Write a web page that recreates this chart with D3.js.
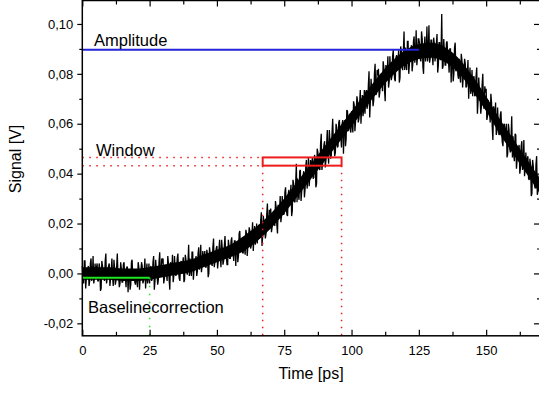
<!DOCTYPE html>
<html>
<head>
<meta charset="utf-8">
<script src="https://cdn.jsdelivr.net/npm/d3@7"></script>
<style>
  body { margin: 0; background: #fff; }
  svg { display: block; font-family: Arial, "Liberation Sans", sans-serif; }
</style>
</head>
<body>
<svg id="chart" width="539" height="393"></svg>
<script>
// trace (mV), samples at 0, 0.5, 1.0 ... ps
const sampleStep = 0.5;
const signalMv = [
  3, -4, 5, -2, 1, -5, 4, -3, 7, -2,
  -1, 4, -3, 2, -6, 3, -2, 5, -4, 1,
  4, -2, 6, -5, 2, -3, 8, -1, -4, 2,
  -3.5, 4.5, -1.5, 2.5, -7.5, 1.5, -4.5, 5.5, -0.5, -3.5,
  1.5, -5.5, 2.5, -1.5, 4.5, -4, 1, -6, 4, -2,
  -4, 3, -2, 7, -3, 1.5, -4.5, 4.5, -1, 6,
  6, -2, 2, -3, 4, -6.5, 3.5, 7.5, -1, 1,
  0, 8, -2, 4, 1, 6.5, -2.5, 5.5, -0.5, 11.5,
  6, -1, 8.5, 1.5, 5, -1, 8, 1.5, 11.5, 3,
  4, 9, 2.5, 7.5, 0, 8, 4, 10.5, 2.5, 8,
  11, 5, 13.5, 2.5, 10, 5, 15, 6.5, 3.5, 11,
  6, 14.5, 8.5, 13, 3, 12.5, 7, 17, 11.5, 8.5,
  14, 7.5, 16, 11, 18.5, 10, 15.5, 9, 19, 13.5,
  12, 19.5, 15, 24.5, 15, 19.5, 14, 23.5, 18, 25.5,
  26, 18.5, 23, 19, 26.5, 16, 26.5, 31, 23, 25.5,
  24, 34.5, 23.5, 32, 29, 35.5, 25, 36, 28.5, 44,
  38, 29.5, 41.5, 33, 39, 30.5, 43, 34, 46.5, 38.5,
  39, 46.5, 38.5, 46, 36, 48.5, 42, 52, 41.5, 48.5,
  53, 45.5, 57.5, 44, 53, 47.5, 62, 52, 48.5, 58.5,
  51, 61.5, 55.5, 60, 48, 61.5, 54, 65, 60.5, 57.5,
  65, 56.5, 67.5, 61, 71, 60.5, 68, 60, 71.5, 65.5,
  64, 73.5, 67.5, 81, 69, 73.5, 67, 80, 71.5, 81.5,
  82, 72.5, 78, 73, 82.5, 69, 82.5, 87, 77, 80.5,
  79, 89.5, 78, 86.5, 83, 89.5, 78.5, 89, 81.5, 97,
  90.5, 81.5, 93, 84, 89.5, 81, 93, 84.5, 97.5, 86.5,
  94, 86, 97, 83, 91, 85, 99, 88.5, 84.5, 93.5,
  87.5, 94.5, 85, 92, 80.5, 92.5, 85.5, 104, 83, 88.5,
  83.5, 93, 85.5, 90, 76.5, 88, 80, 92.5, 84, 79.5,
  86, 76.5, 85.5, 79, 86, 74.5, 80, 70, 82.5, 73.5,
  71, 79, 71.5, 82.5, 69, 73, 64, 75.5, 67.5, 75,
  74, 63, 67, 60.5, 68.5, 53.5, 65.5, 68.5, 57, 59,
  56, 65, 52.5, 59.5, 55, 60, 48, 57.5, 48.5, 63,
  55, 45, 55.5, 45.5, 50, 40, 51, 41.5, 53.5, 42,
  41, 47, 37.5, 43.5, 32, 43, 35, 43.5, 31.5, 37,
  36
];
// in-between samples at 0.25, 0.75, 1.25 ... ps (mV)
const signalMvMid = [
  -2, 5, -6, 1, 3, -3, 6, -1, -4, 4,
  2, -3, 4, -7, 5, -1, -3, 8, -2, 3,
  -5, 1.5, -1.5, 5.5, -4.5, 2.5, -0.5, -5.5, 4.5, -3.5,
  3.5, -1.5, -5.5, 2.5, 0.5, -6.5, 4.5, -2.5, 1.5, -4.5,
  -2.5, 4.5, -6.5, 0.5, 3, -3, 6, -1, -4, 4,
  2, -3, 4.5, -6.5, 5.5, -0.5, -2.5, 8.5, -1, 4,
  -4, 3, 0, 7, -2.5, 4.5, 1.5, -3.5, 7, -1,
  6, 1, -3, 5, 3.5, -3.5, 7.5, 0.5, 4.5, -1,
  1, 8.5, -2.5, 4.5, 7, 1, 10.5, 3.5, 0.5, 9,
  7, 2.5, 9.5, -1.5, 10.5, 4.5, 3, 14, 4.5, 10,
  2, 9.5, 6.5, 13.5, 3.5, 11, 8, 3.5, 13.5, 6,
  13, 8.5, 5, 13, 11.5, 4.5, 16, 9, 13.5, 8,
  10, 17.5, 7, 14.5, 17, 11, 20.5, 14, 11.5, 20,
  18, 14, 21, 11, 23, 17.5, 16, 28, 18, 24,
  16.5, 24, 21.5, 29, 19.5, 27.5, 25, 20.5, 31, 23.5,
  32.5, 27, 23, 33.5, 31, 23, 37.5, 29, 36, 28.5,
  31.5, 41, 29, 37.5, 41, 34, 45.5, 38, 35, 45.5,
  44.5, 38, 47.5, 34.5, 50, 44, 41.5, 56, 44, 51.5,
  42.5, 52, 48.5, 57.5, 46, 56, 52.5, 47, 60, 50.5,
  60.5, 55, 50.5, 61.5, 59, 51, 65.5, 57, 64, 56.5,
  59.5, 69, 57, 65.5, 69, 62, 73.5, 66, 63, 73.5,
  72.5, 66, 75.5, 62.5, 78, 72, 69.5, 84, 72, 79.5,
  70.5, 80, 76.5, 85, 73.5, 83.5, 80, 74.5, 87, 77.5,
  87, 81.5, 77, 87.5, 85, 76.5, 91, 82.5, 89, 81.5,
  83.5, 93, 80, 88.5, 91.5, 84, 95, 87.5, 83.5, 94,
  92, 85, 94, 80, 95, 88, 85, 99.5, 86.5, 93.5,
  83.5, 92, 88, 96, 83.5, 92.5, 88, 82, 94, 83.5,
  92.5, 86, 80.5, 90, 86.5, 77, 90.5, 81, 86.5, 78,
  79.5, 88, 74.5, 81.5, 84, 75, 85.5, 76.5, 72, 81.5,
  78.5, 71, 79, 64, 78.5, 70.5, 67, 80, 66, 72.5,
  61.5, 69.5, 65, 72, 59, 67, 62, 55.5, 66.5, 55.5,
  63.5, 57, 51, 60, 56.5, 46.5, 60, 50, 55, 46.5,
  47.5, 56, 42, 49, 51.5, 42.5, 53, 44, 39, 48.5,
  45.5, 38, 46, 31, 45.5, 37.5, 34, 47, 33, 39.5
];

// dense core of the trace, every 5 ps (mV)
const coreStep = 5;
const coreLowMv = [
  -2.5, -2.5, -2.5, -3, -3, -2.5, -1.5, -0.5, 0.5, 2.5,
  4.5, 6.5, 9, 13, 18, 24, 31, 38, 45, 52,
  59, 66, 73, 79, 83.5, 86, 86.5, 84.5, 80, 73,
  65, 56, 48, 40, 32
];
const coreHighMv = [
  2.5, 2.5, 2.5, 2, 2, 2.5, 3.5, 4.5, 5.5, 7.5,
  9.5, 11.5, 15, 19, 24, 30, 37, 44, 51, 58,
  65, 72, 79, 85, 89.5, 92, 92.5, 90.5, 86, 79,
  71, 62, 54, 46, 38
];

const xMajorTicks = [0, 25, 50, 75, 100, 125, 150];
const xMinorTicks = [12.5, 37.5, 62.5, 87.5, 112.5, 137.5, 162.5];
const yMajorTicks = [-0.02, 0, 0.02, 0.04, 0.06, 0.08, 0.10];
const yMinorTicks = [-0.01, 0.01, 0.03, 0.05, 0.07, 0.09];

// annotation levels
const amplitudeLevel = 0.0897, amplitudeTime = 125;
const baselineLevel = -0.0017, baselineEnd = 25;
const windowLow = 0.0432, windowHigh = 0.0465;
const windowStart = 67, windowEnd = 96.3;

const svg = d3.select("#chart");

const x = d3.scaleLinear().domain([0, 170]).range([82.3, 540]);
const y = d3.scaleLinear().domain([-0.025, 0.11]).range([335.8, -1]);

const locale = d3.formatLocale({ decimal: ",", thousands: ".", grouping: [3], currency: ["", ""], minus: "-" });
const fmt = locale.format(".2f");

const plotLeft = x(0), plotRight = x(170), plotBottom = y(-0.025), plotTop = 0.5;

// core band
const core = d3.area()
  .x((d, i) => x(i * coreStep))
  .y0((d, i) => y(coreLowMv[i] / 1000))
  .y1((d, i) => y(coreHighMv[i] / 1000))
  .curve(d3.curveMonotoneX);

svg.append("path")
  .datum(coreLowMv)
  .attr("d", core)
  .attr("fill", "#000");

// merge both sample sets in time order
const samples = signalMv.map((v, i) => ({ t: i * sampleStep, v: v / 1000 }))
  .concat(signalMvMid.map((v, i) => ({ t: i * sampleStep + sampleStep / 2, v: v / 1000 })))
  .sort((a, b) => a.t - b.t);

const line = d3.line()
  .x(d => x(d.t))
  .y(d => y(d.v));

svg.append("path")
  .datum(samples)
  .attr("d", line)
  .attr("fill", "none")
  .attr("stroke", "#000")
  .attr("stroke-width", 1.3)
  .attr("stroke-linejoin", "miter")
  .attr("stroke-miterlimit", 2);

// amplitude
svg.append("line")
  .attr("x1", plotLeft).attr("x2", x(amplitudeTime))
  .attr("y1", y(amplitudeLevel)).attr("y2", y(amplitudeLevel))
  .attr("stroke", "#2424d8").attr("stroke-width", 2);

// window box + guides
svg.append("rect")
  .attr("x", x(windowStart)).attr("y", y(windowHigh))
  .attr("width", x(windowEnd) - x(windowStart))
  .attr("height", y(windowLow) - y(windowHigh))
  .attr("fill", "none").attr("stroke", "#ee1c1c").attr("stroke-width", 2);

[windowHigh, windowLow].forEach(v => {
  svg.append("line")
    .attr("x1", plotLeft).attr("x2", x(windowStart))
    .attr("y1", y(v)).attr("y2", y(v))
    .attr("stroke", "#ee1c1c").attr("stroke-width", 1.5)
    .attr("stroke-dasharray", "1.5,5.5");
});
[windowStart, windowEnd].forEach(t => {
  svg.append("line")
    .attr("x1", x(t)).attr("x2", x(t))
    .attr("y1", y(windowLow)).attr("y2", plotBottom)
    .attr("stroke", "#ee1c1c").attr("stroke-width", 1.5)
    .attr("stroke-dasharray", "1.5,5.5");
});

// baseline correction
svg.append("line")
  .attr("x1", plotLeft).attr("x2", x(baselineEnd))
  .attr("y1", y(baselineLevel)).attr("y2", y(baselineLevel))
  .attr("stroke", "#1ee61e").attr("stroke-width", 2);
svg.append("line")
  .attr("x1", x(baselineEnd)).attr("x2", x(baselineEnd))
  .attr("y1", y(baselineLevel)).attr("y2", plotBottom)
  .attr("stroke", "#1ee61e").attr("stroke-width", 1.5)
  .attr("stroke-dasharray", "1.5,6.5");

// annotation labels
svg.append("text").attr("x", 94).attr("y", 45.5).attr("font-size", 16.5).text("Amplitude");
svg.append("text").attr("x", 96).attr("y", 156).attr("font-size", 16.5).text("Window");
svg.append("text").attr("x", 88).attr("y", 313).attr("font-size", 16.5).text("Baselinecorrection");

// frame
svg.append("rect")
  .attr("x", plotLeft).attr("y", plotTop)
  .attr("width", plotRight - plotLeft).attr("height", plotBottom - plotTop)
  .attr("fill", "none").attr("stroke", "#000").attr("stroke-width", 1.5);

function styleAxis(g) {
  g.select(".domain").remove();
  g.selectAll(".tick line").attr("stroke", "#000").attr("stroke-width", 1.2);
  g.selectAll("text").attr("fill", "#000").attr("font-size", 13)
    .attr("font-family", "Arial, 'Liberation Sans', sans-serif");
}

// left
svg.append("g").attr("transform", `translate(${plotLeft},0)`)
  .call(d3.axisLeft(y).tickValues(yMajorTicks).tickSize(5).tickPadding(4).tickFormat(fmt))
  .call(styleAxis);
svg.append("g").attr("transform", `translate(${plotLeft},0)`)
  .call(d3.axisLeft(y).tickValues(yMinorTicks).tickSize(3).tickFormat(""))
  .call(styleAxis);

// right
svg.append("g").attr("transform", `translate(${plotRight},0)`)
  .call(d3.axisRight(y).tickValues(yMajorTicks).tickSize(-6).tickFormat(""))
  .call(styleAxis);
svg.append("g").attr("transform", `translate(${plotRight},0)`)
  .call(d3.axisRight(y).tickValues(yMinorTicks).tickSize(-3).tickFormat(""))
  .call(styleAxis);

// bottom
svg.append("g").attr("transform", `translate(0,${plotBottom})`)
  .call(d3.axisBottom(x).tickValues(xMajorTicks).tickSize(-6).tickPadding(10))
  .call(styleAxis);
svg.append("g").attr("transform", `translate(0,${plotBottom})`)
  .call(d3.axisBottom(x).tickValues(xMinorTicks).tickSize(-4).tickFormat(""))
  .call(styleAxis);

// top
svg.append("g").attr("transform", `translate(0,${plotTop})`)
  .call(d3.axisTop(x).tickValues(xMajorTicks).tickSize(-6).tickFormat(""))
  .call(styleAxis);
svg.append("g").attr("transform", `translate(0,${plotTop})`)
  .call(d3.axisTop(x).tickValues(xMinorTicks).tickSize(-4).tickFormat(""))
  .call(styleAxis);

// axis titles
svg.append("text")
  .attr("x", 311).attr("y", 379)
  .attr("text-anchor", "middle").attr("font-size", 16)
  .text("Time [ps]");
svg.append("text")
  .attr("transform", "translate(20.7,159) rotate(-90)")
  .attr("text-anchor", "middle").attr("font-size", 16)
  .text("Signal [V]");
</script>
</body>
</html>
